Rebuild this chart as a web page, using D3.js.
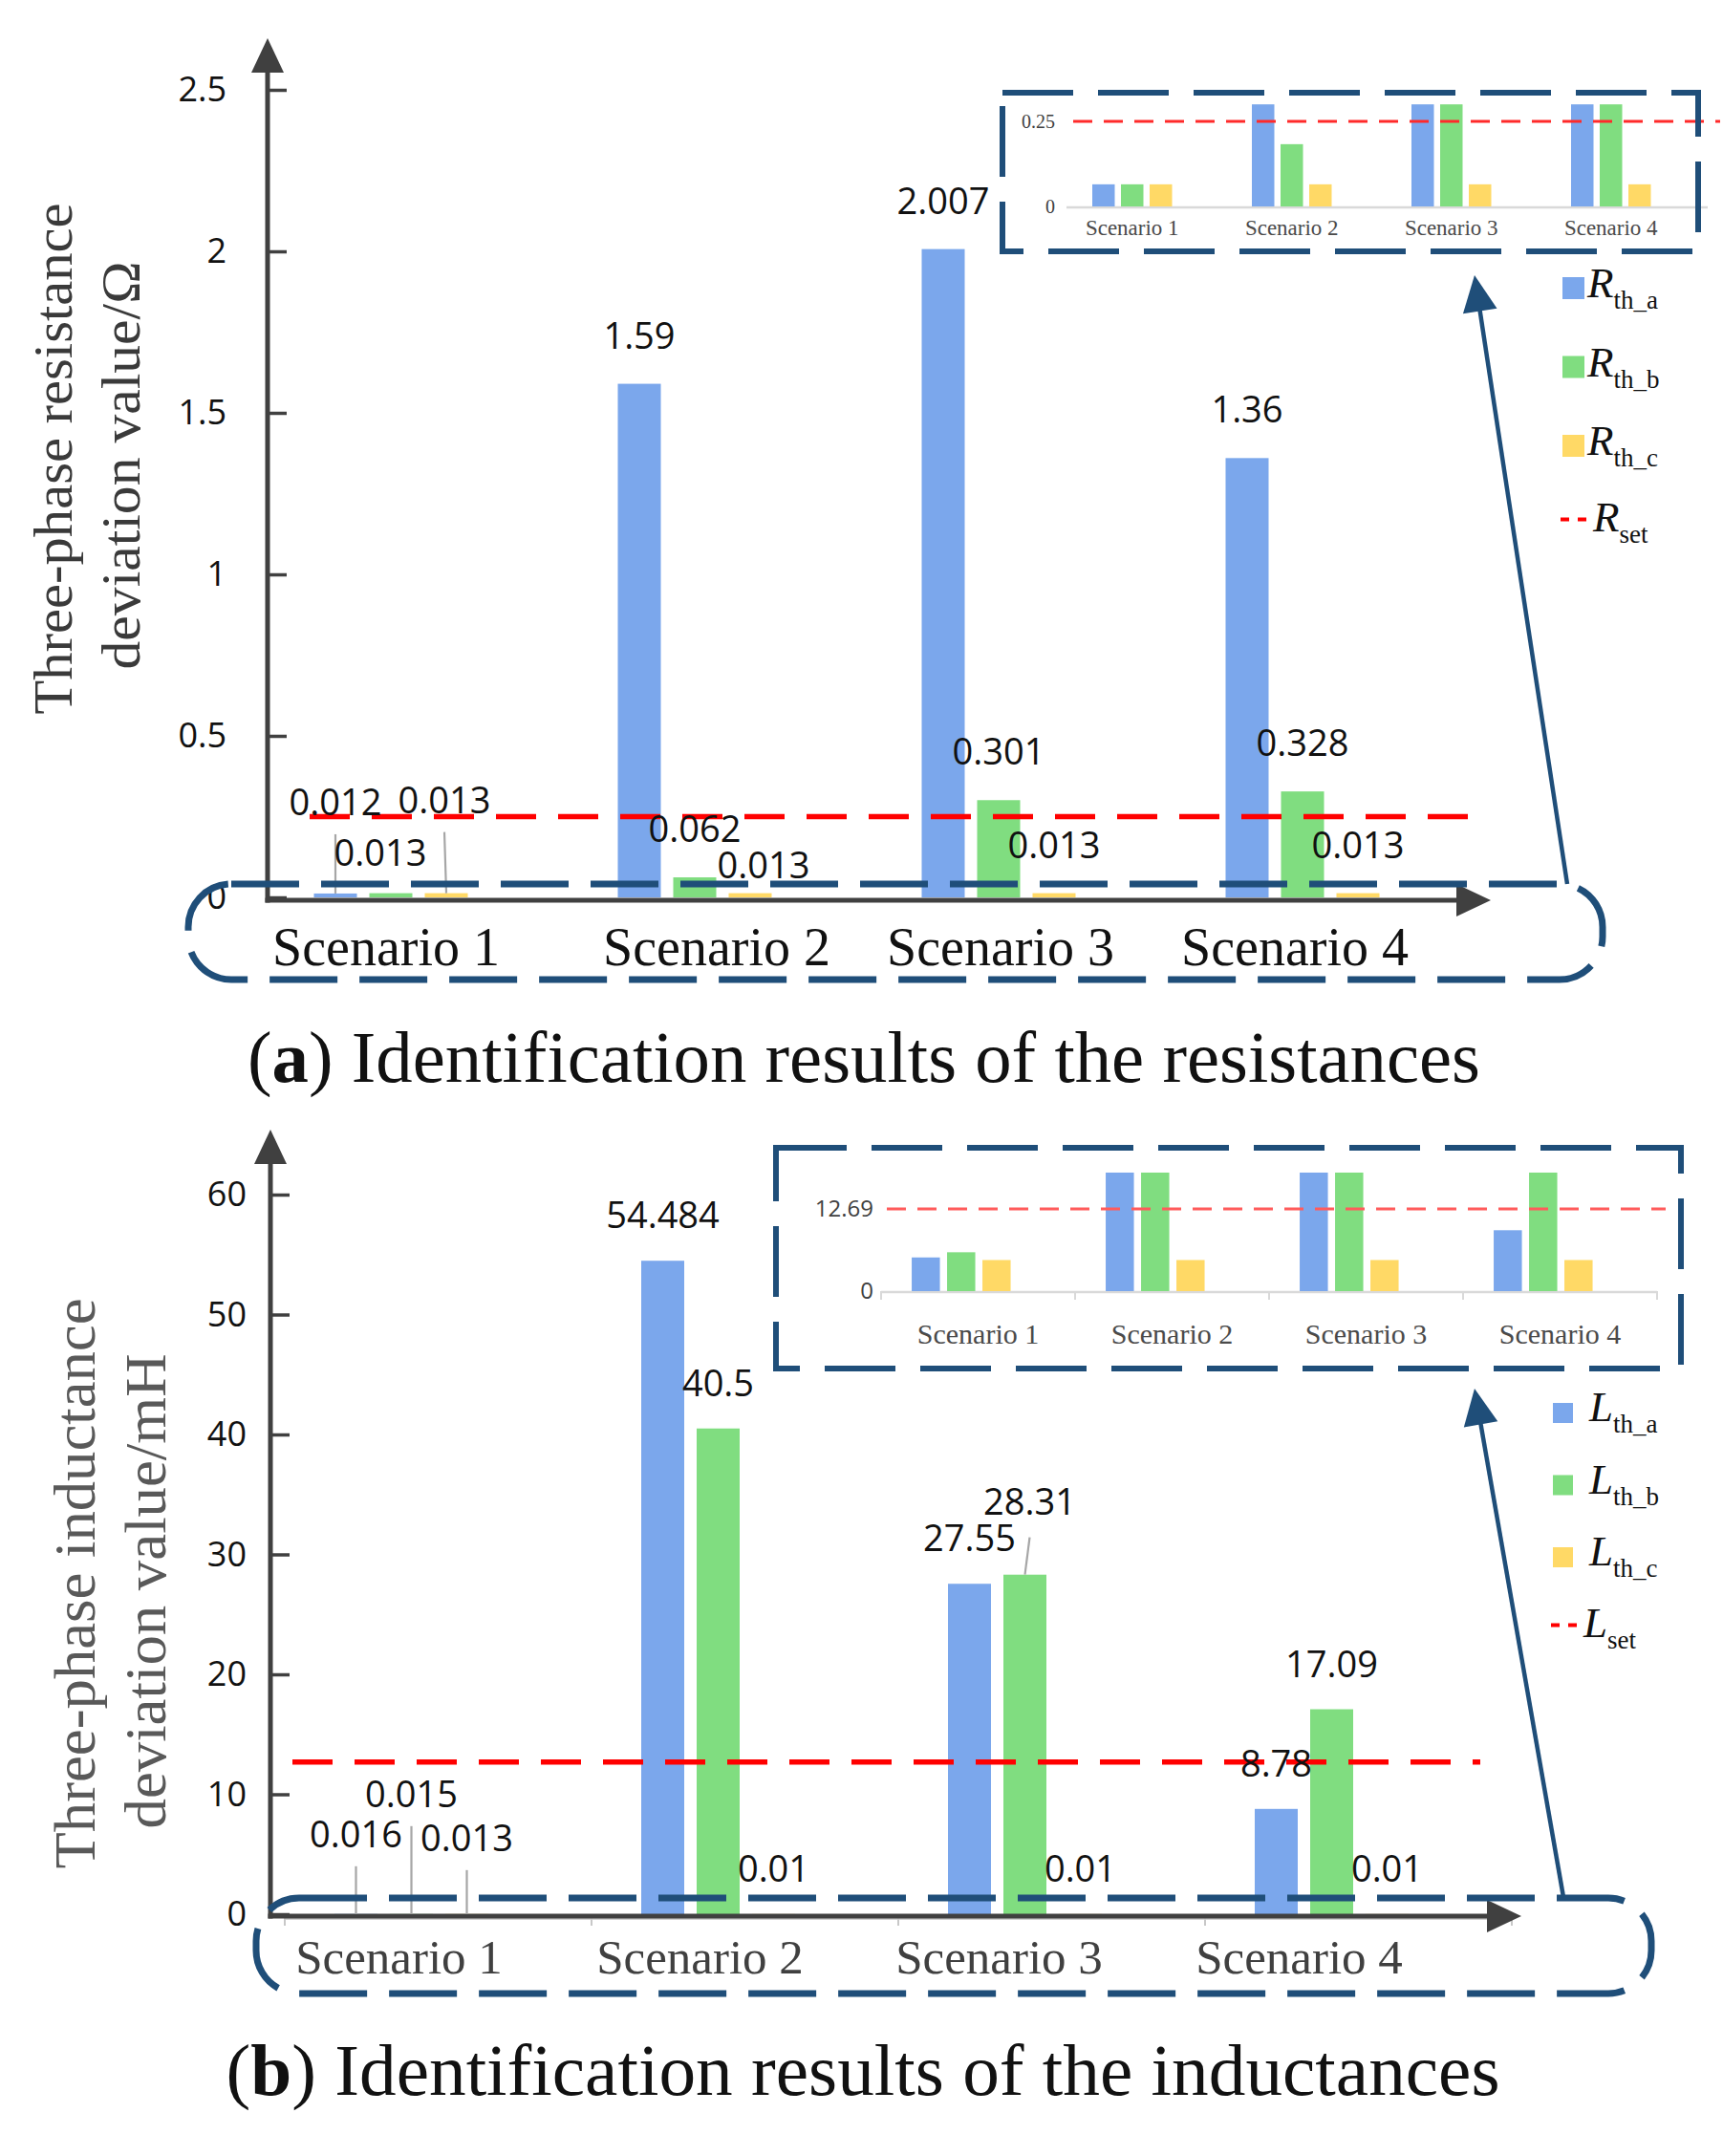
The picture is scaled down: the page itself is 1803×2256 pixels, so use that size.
<!DOCTYPE html>
<html><head><meta charset="utf-8">
<script src="https://cdn.jsdelivr.net/npm/d3@7"></script>
<style>body{margin:0;background:#fff}svg{display:block}</style>
</head><body>
<svg id="c" width="1803" height="2256"></svg>
<script>
// ---------------- data ----------------
const scenarios = ["Scenario 1", "Scenario 2", "Scenario 3", "Scenario 4"];
const seriesKeys = ["a", "b", "c"];

// (a) resistances, Ω
const rthA = [0.012, 1.59, 2.007, 1.36];
const rthB = [0.013, 0.062, 0.301, 0.328];
const rthC = [0.013, 0.013, 0.013, 0.013];
const rSet = 0.25;
const rTicks = [0, 0.5, 1, 1.5, 2, 2.5];
const rTickLabels = ["0", "0.5", "1", "1.5", "2", "2.5"];

// (b) inductances, mH
const lthA = [0.016, 54.484, 27.55, 8.78];
const lthB = [0.015, 40.5, 28.31, 17.09];
const lthC = [0.013, 0.01, 0.01, 0.01];
const lSet = 12.69;
const lTicks = [0, 10, 20, 30, 40, 50, 60];
const lTickLabels = ["0", "10", "20", "30", "40", "50", "60"];

// zoomed insets (schematic, clipped bar heights as drawn)
const insetRA = [0.065, 0.30, 0.30, 0.30];
const insetRB = [0.065, 0.183, 0.30, 0.30];
const insetRC = [0.065, 0.065, 0.065, 0.065];
const insetRTickLabels = ["0", "0.25"];
const insetLA = [5.2, 18.3, 18.3, 9.4];
const insetLB = [6.0, 18.3, 18.3, 18.3];
const insetLC = [4.8, 4.8, 4.8, 4.8];
const insetLTickLabels = ["0", "12.69"];

// ---------------- style ----------------
const C = {a: "#7ba7ec", b: "#80dd80", c: "#ffd966"};
const NAVY = "#1f4e79", AX = "#404040";
const svg = d3.select("#c");

function arrow(g, x1, y1, x2, y2, len, hw, color, w) {
  const ang = Math.atan2(y2 - y1, x2 - x1);
  const bx = x2 - len * Math.cos(ang), by = y2 - len * Math.sin(ang);
  const px = -Math.sin(ang) * hw, py = Math.cos(ang) * hw;
  g.append("line").attr("x1", x1).attr("y1", y1).attr("x2", bx + 2 * Math.cos(ang)).attr("y2", by + 2 * Math.sin(ang))
    .attr("stroke", color).attr("stroke-width", w);
  g.append("path").attr("d", `M${x2},${y2}L${bx + px},${by + py}L${bx - px},${by - py}Z`).attr("fill", color);
}

function mainPanel(P) {
  const g = svg.append("g");
  const y = d3.scaleLinear().domain(P.yDomain).range(P.yRange);
  const x = d3.scaleBand().domain(scenarios).range([P.bandStart, P.bandStart + scenarios.length * P.bandW]);
  const p = P.barGap / P.slot;
  const xs = d3.scaleBand().domain(["a", "b", "c", "d"]).range([P.innerOff, P.innerOff + 4 * P.slot])
    .paddingInner(p).paddingOuter(p / 2);

  if (P.catAxis) {
    const x0 = x(scenarios[0]), x1 = x(scenarios[3]) + x.bandwidth();
    g.append("line").attr("x1", x0).attr("x2", x1).attr("y1", P.axisY + 3).attr("y2", P.axisY + 3)
      .attr("stroke", "#d0d0d0").attr("stroke-width", 2);
    const bounds = scenarios.map(s => x(s)).concat([x1]);
    g.selectAll("line.ct").data(bounds).join("line").attr("class", "ct")
      .attr("x1", d => d).attr("x2", d => d).attr("y1", P.axisY).attr("y2", P.axisY + 10)
      .attr("stroke", "#c8c8c8").attr("stroke-width", 2);
  }

  const rows = [];
  seriesKeys.forEach(k => P.vals[k].forEach((v, i) => rows.push({k, i, v, s: scenarios[i]})));
  g.selectAll("rect.bar").data(rows).join("rect").attr("class", "bar")
    .attr("x", d => x(d.s) + xs(d.k)).attr("width", xs.bandwidth())
    .attr("y", d => y(d.v)).attr("height", d => y(0) - y(d.v)).attr("fill", d => C[d.k]);

  // y ticks
  const ax = d3.axisLeft(y).tickValues(P.ticks).tickFormat((d, i) => P.tickLabels[i])
    .tickSizeInner(-P.tickLen).tickSizeOuter(0).tickPadding(P.tickPad);
  const axg = g.append("g").attr("transform", `translate(${P.axisX},0)`).call(ax);
  axg.select(".domain").remove();
  axg.selectAll(".tick line").attr("stroke", AX).attr("stroke-width", 3.5);
  axg.selectAll(".tick text").attr("font-family", "Open Sans").attr("font-size", 36).attr("fill", "#111");

  // axis lines with arrows
  g.append("line").attr("x1", P.axisX).attr("x2", P.axisX).attr("y1", P.axisY + 2.5).attr("y2", P.yTip + 30)
    .attr("stroke", AX).attr("stroke-width", 5);
  g.append("path").attr("d", `M${P.axisX},${P.yTip}L${P.axisX - 17},${P.yTip + 36}L${P.axisX + 17},${P.yTip + 36}Z`).attr("fill", AX);
  g.append("line").attr("x1", P.axisX - 2.5).attr("x2", P.xTip - 30).attr("y1", P.axisY).attr("y2", P.axisY)
    .attr("stroke", AX).attr("stroke-width", 5);
  g.append("path").attr("d", `M${P.xTip},${P.axisY}L${P.xTip - 36},${P.axisY - 17}L${P.xTip - 36},${P.axisY + 17}Z`).attr("fill", AX);

  // set line
  g.append("line").attr("x1", P.setX[0]).attr("x2", P.setX[1]).attr("y1", y(P.set)).attr("y2", y(P.set))
    .attr("stroke", "#ff0000").attr("stroke-width", 5.5).attr("stroke-dasharray", "42 23");

  // data labels
  rows.forEach(d => {
    const adj = P.adj[d.k + d.i] || {};
    const cx = x(d.s) + xs(d.k) + xs.bandwidth() / 2;
    const top = y(d.v);
    const bx = cx + (adj.dx || 0), by = top - P.labelOff + (adj.dy || 0);
    if (adj.leader) {
      g.append("line").attr("x1", bx + (adj.ldx || 0)).attr("y1", by + (adj.ly || 20)).attr("x2", cx).attr("y2", top)
        .attr("stroke", "#a6a6a6").attr("stroke-width", 2.2);
    }
    g.append("text").attr("x", bx).attr("y", by).attr("text-anchor", "middle")
      .attr("font-family", "Open Sans").attr("font-size", 38).attr("fill", "#111").text(String(d.v));
  });

  // category labels
  g.selectAll("text.cat").data(scenarios).join("text").attr("class", "cat")
    .attr("x", (d, i) => x(d) + x.bandwidth() / 2 + P.catNudge[i]).attr("y", P.catY)
    .attr("text-anchor", "middle").attr("font-family", "Liberation Serif").attr("font-size", P.catFont)
    .attr("fill", P.catColor).text(d => d);

  // y title
  P.title.forEach(t => {
    g.append("text").attr("transform", `translate(${t.x},${t.y}) rotate(-90)`).attr("text-anchor", "middle")
      .attr("font-family", "Liberation Serif").attr("font-size", t.fs).attr("fill", P.titleColor)
      .attr("textLength", t.len).attr("lengthAdjust", "spacingAndGlyphs").text(t.text);
  });

  // highlighting dashed rounded frame + arrow to inset
  const f = P.frame;
  g.append("rect").attr("x", f.x).attr("y", f.y).attr("width", f.w).attr("height", f.h).attr("rx", 45).attr("ry", 45)
    .attr("fill", "none").attr("stroke", NAVY).attr("stroke-width", 7).attr("stroke-dasharray", "71 23");
  arrow(g, P.pointer[0], P.pointer[1], P.pointer[2], P.pointer[3], 38, 18, NAVY, 4.5);

  // caption
  const cap = g.append("text").attr("x", P.caption.x).attr("y", P.caption.y).attr("text-anchor", "middle")
    .attr("font-family", "Liberation Serif").attr("font-size", 77).attr("fill", "#111")
    .attr("textLength", P.caption.len).attr("lengthAdjust", "spacingAndGlyphs");
  cap.append("tspan").text("(");
  cap.append("tspan").attr("font-weight", "bold").text(P.caption.letter);
  cap.append("tspan").text(") " + P.caption.text);
}

function insetPanel(I) {
  const g = svg.append("g");
  const y = d3.scaleLinear().domain([0, I.refVal]).range([I.base, I.refY]);
  const x = d3.scaleBand().domain(scenarios).range([I.bandStart, I.bandStart + 4 * I.bandW]);
  const p = I.barGap / I.slot;
  const xs = d3.scaleBand().domain(seriesKeys).range([I.innerOff, I.innerOff + 3 * I.slot]).paddingInner(p).paddingOuter(p / 2);
  g.append("line").attr("x1", I.baseX[0]).attr("x2", I.baseX[1]).attr("y1", I.base + 1).attr("y2", I.base + 1)
    .attr("stroke", "#d9d9d9").attr("stroke-width", 2.5);
  if (I.baseTicks) {
    const b = scenarios.map(s => x(s)).concat([x(scenarios[3]) + x.bandwidth()]);
    g.selectAll("line.bt").data(b).join("line").attr("class", "bt").attr("x1", d => d).attr("x2", d => d)
      .attr("y1", I.base).attr("y2", I.base + 9).attr("stroke", "#d9d9d9").attr("stroke-width", 2);
  }
  const rows = [];
  seriesKeys.forEach(k => I.vals[k].forEach((v, i) => rows.push({k, v, s: scenarios[i]})));
  g.selectAll("rect").data(rows).join("rect")
    .attr("x", d => x(d.s) + xs(d.k)).attr("width", xs.bandwidth())
    .attr("y", d => y(d.v)).attr("height", d => y(0) - y(d.v)).attr("fill", d => C[d.k]);
  g.append("line").attr("x1", I.setX[0]).attr("x2", I.setX[1]).attr("y1", y(I.refVal)).attr("y2", y(I.refVal))
    .attr("stroke", I.setColor).attr("stroke-width", 3).attr("stroke-dasharray", "20 12");
  [0, I.refVal].forEach((v, i) => {
    g.append("text").attr("x", I.tickX).attr("y", y(v)).attr("dy", "0.35em").attr("text-anchor", "end")
      .attr("font-family", I.tickFont).attr("font-size", I.tickFs).attr("fill", "#404040").text(I.tickLabels[i]);
  });
  g.selectAll("text.sc").data(scenarios).join("text").attr("class", "sc")
    .attr("x", d => I.groupCenter ? x(d) + I.innerOff + 1.5 * I.slot : x(d) + x.bandwidth() / 2)
    .attr("y", I.labelY).attr("text-anchor", "middle").attr("font-family", "Liberation Serif")
    .attr("font-size", I.labelFs).attr("fill", "#4a4a4a").text(d => d);
  const r = I.rect;
  g.append("rect").attr("x", r.x).attr("y", r.y).attr("width", r.w).attr("height", r.h).attr("fill", "none")
    .attr("stroke", NAVY).attr("stroke-width", 6).attr("stroke-dasharray", "74 26");
}

function legend(L) {
  const g = svg.append("g");
  seriesKeys.forEach((k, i) => {
    const t = L.top + i * L.step;
    g.append("rect").attr("x", L.x).attr("y", t).attr("width", L.size).attr("height", L.size).attr("fill", C[k]);
    const tx = g.append("text").attr("x", L.tx).attr("y", t + L.size - 2).attr("font-family", "Liberation Serif").attr("fill", "#111");
    tx.append("tspan").attr("font-style", "italic").attr("font-size", 45).text(L.sym);
    tx.append("tspan").attr("font-size", 27).attr("dy", 12).text("th_" + k);
  });
  const ly = L.top + 3 * L.step + 6;
  g.append("line").attr("x1", L.x - 2).attr("x2", L.x + 26).attr("y1", ly).attr("y2", ly)
    .attr("stroke", "#ff0000").attr("stroke-width", 4).attr("stroke-dasharray", "9 9");
  const tx = g.append("text").attr("x", L.x + 32).attr("y", ly + 12).attr("font-family", "Liberation Serif").attr("fill", "#111");
  tx.append("tspan").attr("font-style", "italic").attr("font-size", 45).text(L.sym);
  tx.append("tspan").attr("font-size", 27).attr("dy", 12).text("set");
}

// ---------------- panel (a) ----------------
mainPanel({
  vals: {a: rthA, b: rthB, c: rthC}, set: rSet, ticks: rTicks, tickLabels: rTickLabels,
  yDomain: [0, 2.5], yRange: [939, 94], axisX: 280, axisY: 942, yTip: 40, xTip: 1560,
  bandStart: 282, bandW: 318, innerOff: 40, slot: 58, barGap: 13, tickLen: 20, tickPad: 43,
  setX: [324, 1546], labelOff: 37,
  adj: {a0: {dy: -45, leader: true}, b0: {dx: -11, dy: 8}, c0: {dx: -2, dy: -47, leader: true}, c1: {dx: 14, dy: 21}},
  catNudge: [-37, -9, -30, -40], catY: 1010, catFont: 56, catColor: "#111",
  title: [{text: "Three-phase resistance", x: 75, y: 480, fs: 56, len: 535},
          {text: "deviation value/Ω", x: 146, y: 487, fs: 56, len: 427}],
  titleColor: "#3a3a3a",
  frame: {x: 197, y: 925, w: 1480, h: 100},
  pointer: [1640, 925, 1543, 288],
  caption: {x: 904, y: 1132, len: 1290, letter: "a", text: "Identification results of the resistances"}
});
insetPanel({
  vals: {a: insetRA, b: insetRB, c: insetRC}, refVal: rSet, refY: 127, base: 216,
  bandStart: 1100, bandW: 167, innerOff: 39.75, slot: 30, barGap: 6.5,
  baseX: [1116, 1787], baseTicks: false, setX: [1123, 1800], setColor: "#ff2a2a",
  tickX: 1104, tickFont: "Liberation Serif", tickFs: 20, tickLabels: insetRTickLabels,
  groupCenter: true, labelY: 246, labelFs: 23,
  rect: {x: 1049, y: 97, w: 728, h: 166}
});
legend({sym: "R", x: 1635, tx: 1661, top: 290, step: 82.5, size: 23});

// ---------------- panel (b) ----------------
mainPanel({
  vals: {a: lthA, b: lthB, c: lthC}, set: lSet, ticks: lTicks, tickLabels: lTickLabels,
  yDomain: [0, 60], yRange: [2003, 1250], axisX: 283, axisY: 2005, yTip: 1182, xTip: 1592,
  bandStart: 298, bandW: 321, innerOff: 45.5, slot: 58, barGap: 13, tickLen: 20, tickPad: 25,
  setX: [306, 1549], labelOff: 34, catAxis: true,
  adj: {a0: {dy: -36, leader: true}, b0: {dy: -78, leader: true}, c0: {dy: -32, leader: true},
        b2: {dx: 5, dy: -29, leader: true, ly: 24}},
  catNudge: [-41, -47, -55, -62], catY: 2065, catFont: 51, catColor: "#404040",
  title: [{text: "Three-phase inductance", x: 99, y: 1657, fs: 62, len: 597},
          {text: "deviation value/mH", x: 173, y: 1665, fs: 62, len: 497}],
  titleColor: "#595959",
  frame: {x: 268, y: 1986, w: 1460, h: 100},
  pointer: [1636, 1985, 1543, 1453],
  caption: {x: 903, y: 2192, len: 1333, letter: "b", text: "Identification results of the inductances"}
});
insetPanel({
  vals: {a: insetLA, b: insetLB, c: insetLC}, refVal: lSet, refY: 1265, base: 1351,
  bandStart: 922, bandW: 203, innerOff: 28.3, slot: 37, barGap: 7.5,
  baseX: [922, 1734], baseTicks: true, setX: [928, 1743], setColor: "#ff5b5b",
  tickX: 914, tickFont: "Open Sans", tickFs: 24, tickLabels: insetLTickLabels,
  groupCenter: false, labelY: 1406, labelFs: 30,
  rect: {x: 812, y: 1201, w: 947, h: 231}
});
legend({sym: "L", x: 1625, tx: 1663, top: 1468, step: 75.5, size: 21});
</script>
</body></html>
